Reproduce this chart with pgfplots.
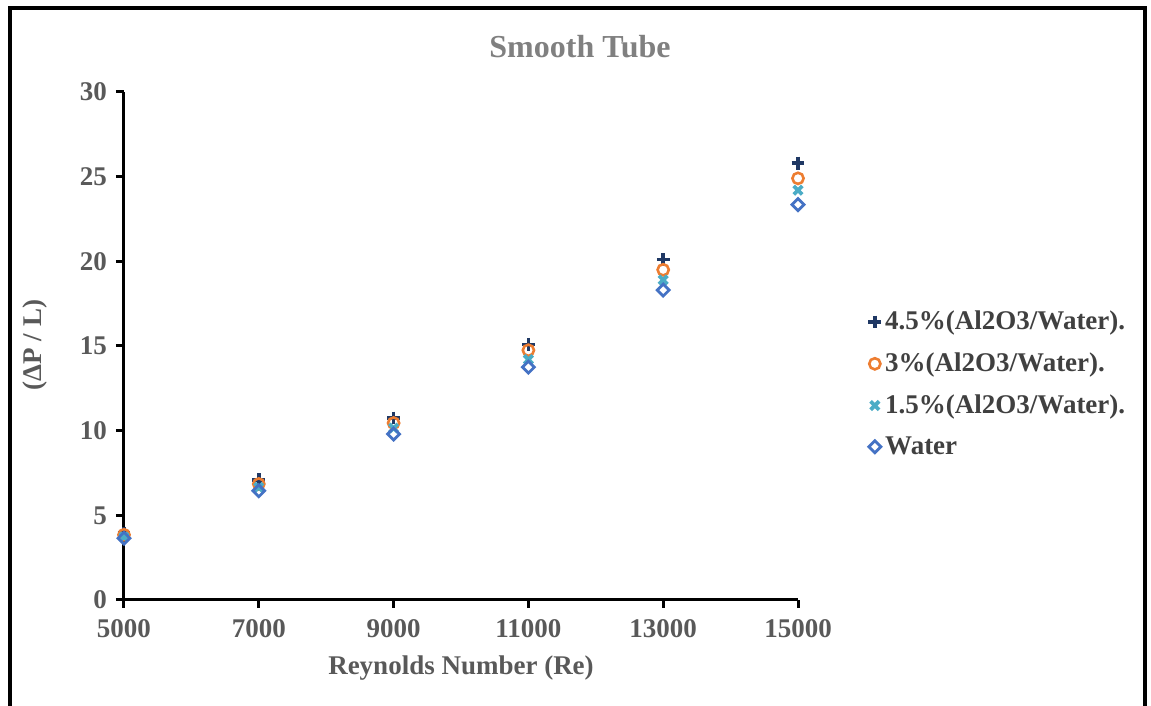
\documentclass[border=0pt]{standalone}
\usepackage{fontspec}
\setmainfont{Liberation Serif}
\usepackage{pgfplots}
\pgfplotsset{compat=1.18}
\definecolor{cnavy}{RGB}{31,56,100}
\definecolor{corange}{RGB}{237,125,49}
\definecolor{cteal}{RGB}{75,172,198}
\definecolor{cblue}{RGB}{68,114,196}
\definecolor{tgray}{RGB}{89,89,89}
\definecolor{lgray}{RGB}{64,64,64}
\definecolor{ttgray}{RGB}{128,128,128}
\begin{document}
\begin{tikzpicture}
\useasboundingbox (-62pt,-53pt) rectangle (513.5pt,300pt);
\draw[line width=1.6pt,black] (-57pt,-60pt) rectangle (510.5pt,296pt);
\begin{axis}[
  at={(0pt,0pt)}, anchor=origin,
  scale only axis, width=337pt, height=254pt,
  xmin=5000, xmax=15000, ymin=0, ymax=30,
  xtick={5000,7000,9000,11000,13000,15000},
  ytick={0,5,10,15,20,25,30},
  scaled ticks=false,
  axis lines*=left,
  axis line style={line width=1.5pt,black,-},
  tick style={line width=1.5pt,black},
  tick align=outside,
  major tick length=4pt,
  minor tick num=0,
  /pgf/number format/1000 sep={},
  /pgf/number format/assume math mode=true,
  ticklabel style={font=\fontsize{13.5}{15}\selectfont\bfseries, text=tgray},
  xticklabel style={yshift=-2pt},
  yticklabel style={xshift=-1pt},
  xlabel={Reynolds Number (Re)},
  ylabel={(ΔP / L)},
  label style={font=\fontsize{13.5}{15}\selectfont\bfseries, text=tgray},
  xlabel style={at={(axis description cs:0.5,0)}, anchor=center, yshift=-34pt},
  every axis y label/.append style={at={(-44.5pt,127.5pt)}, anchor=center},
  legend style={at={(1.095,0.585)}, anchor=north west, draw=none, fill=none,
    font=\fontsize{13.5}{15}\selectfont\bfseries, text=lgray, row sep=6pt,
    legend cell align=left},
  legend image code/.code={\draw[#1] plot coordinates {(0.12cm,0cm)};},
  clip=false,
]
\addplot[only marks, mark=+, mark size=3.2pt, cnavy, line width=1.8pt] coordinates {
(5000,3.95) (7000,7.1) (9000,10.75) (11000,15.1) (13000,20.1) (15000,25.8)};
\addlegendentry{4.5\%(Al2O3/Water).}
\addplot[only marks, mark=o, mark size=2.8pt, corange, line width=1.3pt] coordinates {
(5000,3.85) (7000,6.85) (9000,10.45) (11000,14.75) (13000,19.5) (15000,24.9)};
\addlegendentry{3\%(Al2O3/Water).}
\addplot[only marks, mark=x, mark size=3pt, cteal, line width=1.9pt] coordinates {
(5000,3.72) (7000,6.65) (9000,10.15) (11000,14.2) (13000,18.9) (15000,24.2)};
\addlegendentry{1.5\%(Al2O3/Water).}
\addplot[only marks, mark=square, mark size=2.1pt, mark options={rotate=45}, cblue, line width=1.4pt] coordinates {
(5000,3.65) (7000,6.45) (9000,9.8) (11000,13.75) (13000,18.3) (15000,23.35)};
\addlegendentry{Water}
\end{axis}
\node[font=\fontsize{16}{18}\selectfont\bfseries, text=ttgray] at (228pt,276.5pt) {Smooth Tube};
\end{tikzpicture}
\end{document}
